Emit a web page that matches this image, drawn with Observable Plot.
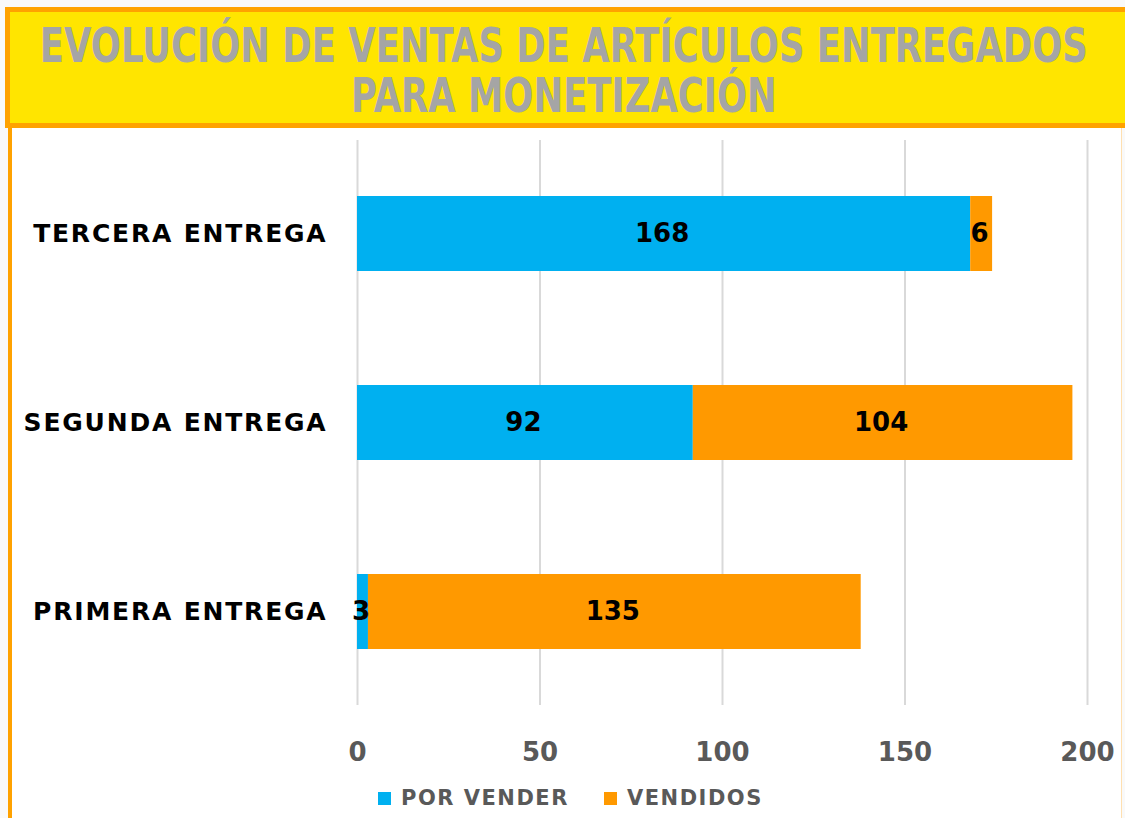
<!DOCTYPE html>
<html><head><meta charset="utf-8">
<script src="https://cdn.jsdelivr.net/npm/d3@7"></script>
<script src="https://cdn.jsdelivr.net/npm/@observablehq/plot@0.6"></script>
<style>
body{margin:0;width:1125px;height:818px;overflow:hidden;background:#fff;position:relative;font-family:"DejaVu Sans",sans-serif;}
#sheet{position:absolute;left:0;top:0;width:1125px;height:818px;background:#f9f9f9;}
#box{position:absolute;left:8px;top:124px;width:1114px;height:700px;background:#fff;border-left:4px solid #FFA200;border-right:1px solid #FFE0B0;box-sizing:border-box;}
#header{position:absolute;left:5px;top:7px;width:1120px;height:121px;box-sizing:border-box;background:#FFE500;border:5px solid #FFA200;border-right:none;}
#title{position:absolute;top:8px;left:0;text-align:center;white-space:pre;font-weight:bold;font-size:48px;line-height:50px;color:#A5A5A5;font-family:"DejaVu Sans",sans-serif;transform-origin:50% 50%;}
#chart{position:absolute;left:10px;top:128px;}
#legend{position:absolute;left:0;top:784px;width:1125px;height:28px;}
.lg{position:absolute;top:0;display:flex;align-items:center;font-weight:bold;font-size:21px;color:#595959;letter-spacing:1.5px;height:28px;}
.sw{width:13px;height:13px;margin-right:10px;display:inline-block;}
</style></head><body>
<div id="sheet"></div>
<div id="box"></div>
<div id="header"><div id="title"></div></div>
<div id="chart"></div>
<div id="legend"></div>
<script>
const titleLines = ["EVOLUCIÓN DE VENTAS DE ARTÍCULOS ENTREGADOS", "PARA MONETIZACIÓN"];
const categories = ["TERCERA ENTREGA", "SEGUNDA ENTREGA", "PRIMERA ENTREGA"];
const seriesNames = ["POR VENDER", "VENDIDOS"];
const porVender = [168, 92, 3];
const vendidos = [6, 104, 135];
const seriesColors = ["#00B0F0", "#FF9900"];
const xTicks = [0, 50, 100, 150, 200];

// Header title: a single two-line text block, condensed horizontally to the reference width
const titleEl = document.getElementById("title");
titleEl.textContent = titleLines.join("\n");
const tw = titleEl.getBoundingClientRect().width;
titleEl.style.left = (554 - tw / 2) + "px";
titleEl.style.transform = `scaleX(${1048 / tw})`;

const data = categories.flatMap((c, i) => [
  {cat: c, series: seriesNames[0], value: porVender[i]},
  {cat: c, series: seriesNames[1], value: vendidos[i]}
]);

const chart = Plot.plot({
  width: 1115, height: 650,
  marginLeft: 347, marginRight: 38, marginTop: 12, marginBottom: 73,
  style: {fontFamily: "DejaVu Sans", background: "transparent", overflow: "visible"},
  x: {domain: [0, 200], ticks: xTicks, label: null},
  y: {domain: categories, paddingInner: 0.605, paddingOuter: 0.29, label: null},
  color: {domain: seriesNames, range: seriesColors},
  marks: [
    Plot.gridX(xTicks, {stroke: "#D9D9D9", strokeOpacity: 1, strokeWidth: 2}),
    Plot.barX(data, Plot.stackX({x: "value", y: "cat", fill: "series"})),
    Plot.text(data, Plot.stackX({x: "value", y: "cat", text: d => String(d.value), fill: "#000", fontSize: 26, fontWeight: "bold", dx: -2})),
    Plot.axisX(xTicks, {tickSize: 0, tickPadding: 37, fontSize: 26, fontWeight: "bold", fill: "#595959", label: null}),
    Plot.axisY({tickSize: 0, tickPadding: 30, fontSize: 25, fontWeight: "bold", fill: "#000", label: null})
  ]
});
document.getElementById("chart").appendChild(chart);
d3.select(chart).selectAll("g[aria-label='y-axis tick label'] text").style("letter-spacing", "1.8px");

// Legend
const lg = d3.select("#legend");
const legendX = [378, 604];
seriesNames.forEach((s, i) => {
  const item = lg.append("div").attr("class", "lg").style("left", legendX[i] + "px");
  item.append("span").attr("class", "sw").style("background", seriesColors[i]);
  item.append("span").text(s);
});
</script>
</body></html>
